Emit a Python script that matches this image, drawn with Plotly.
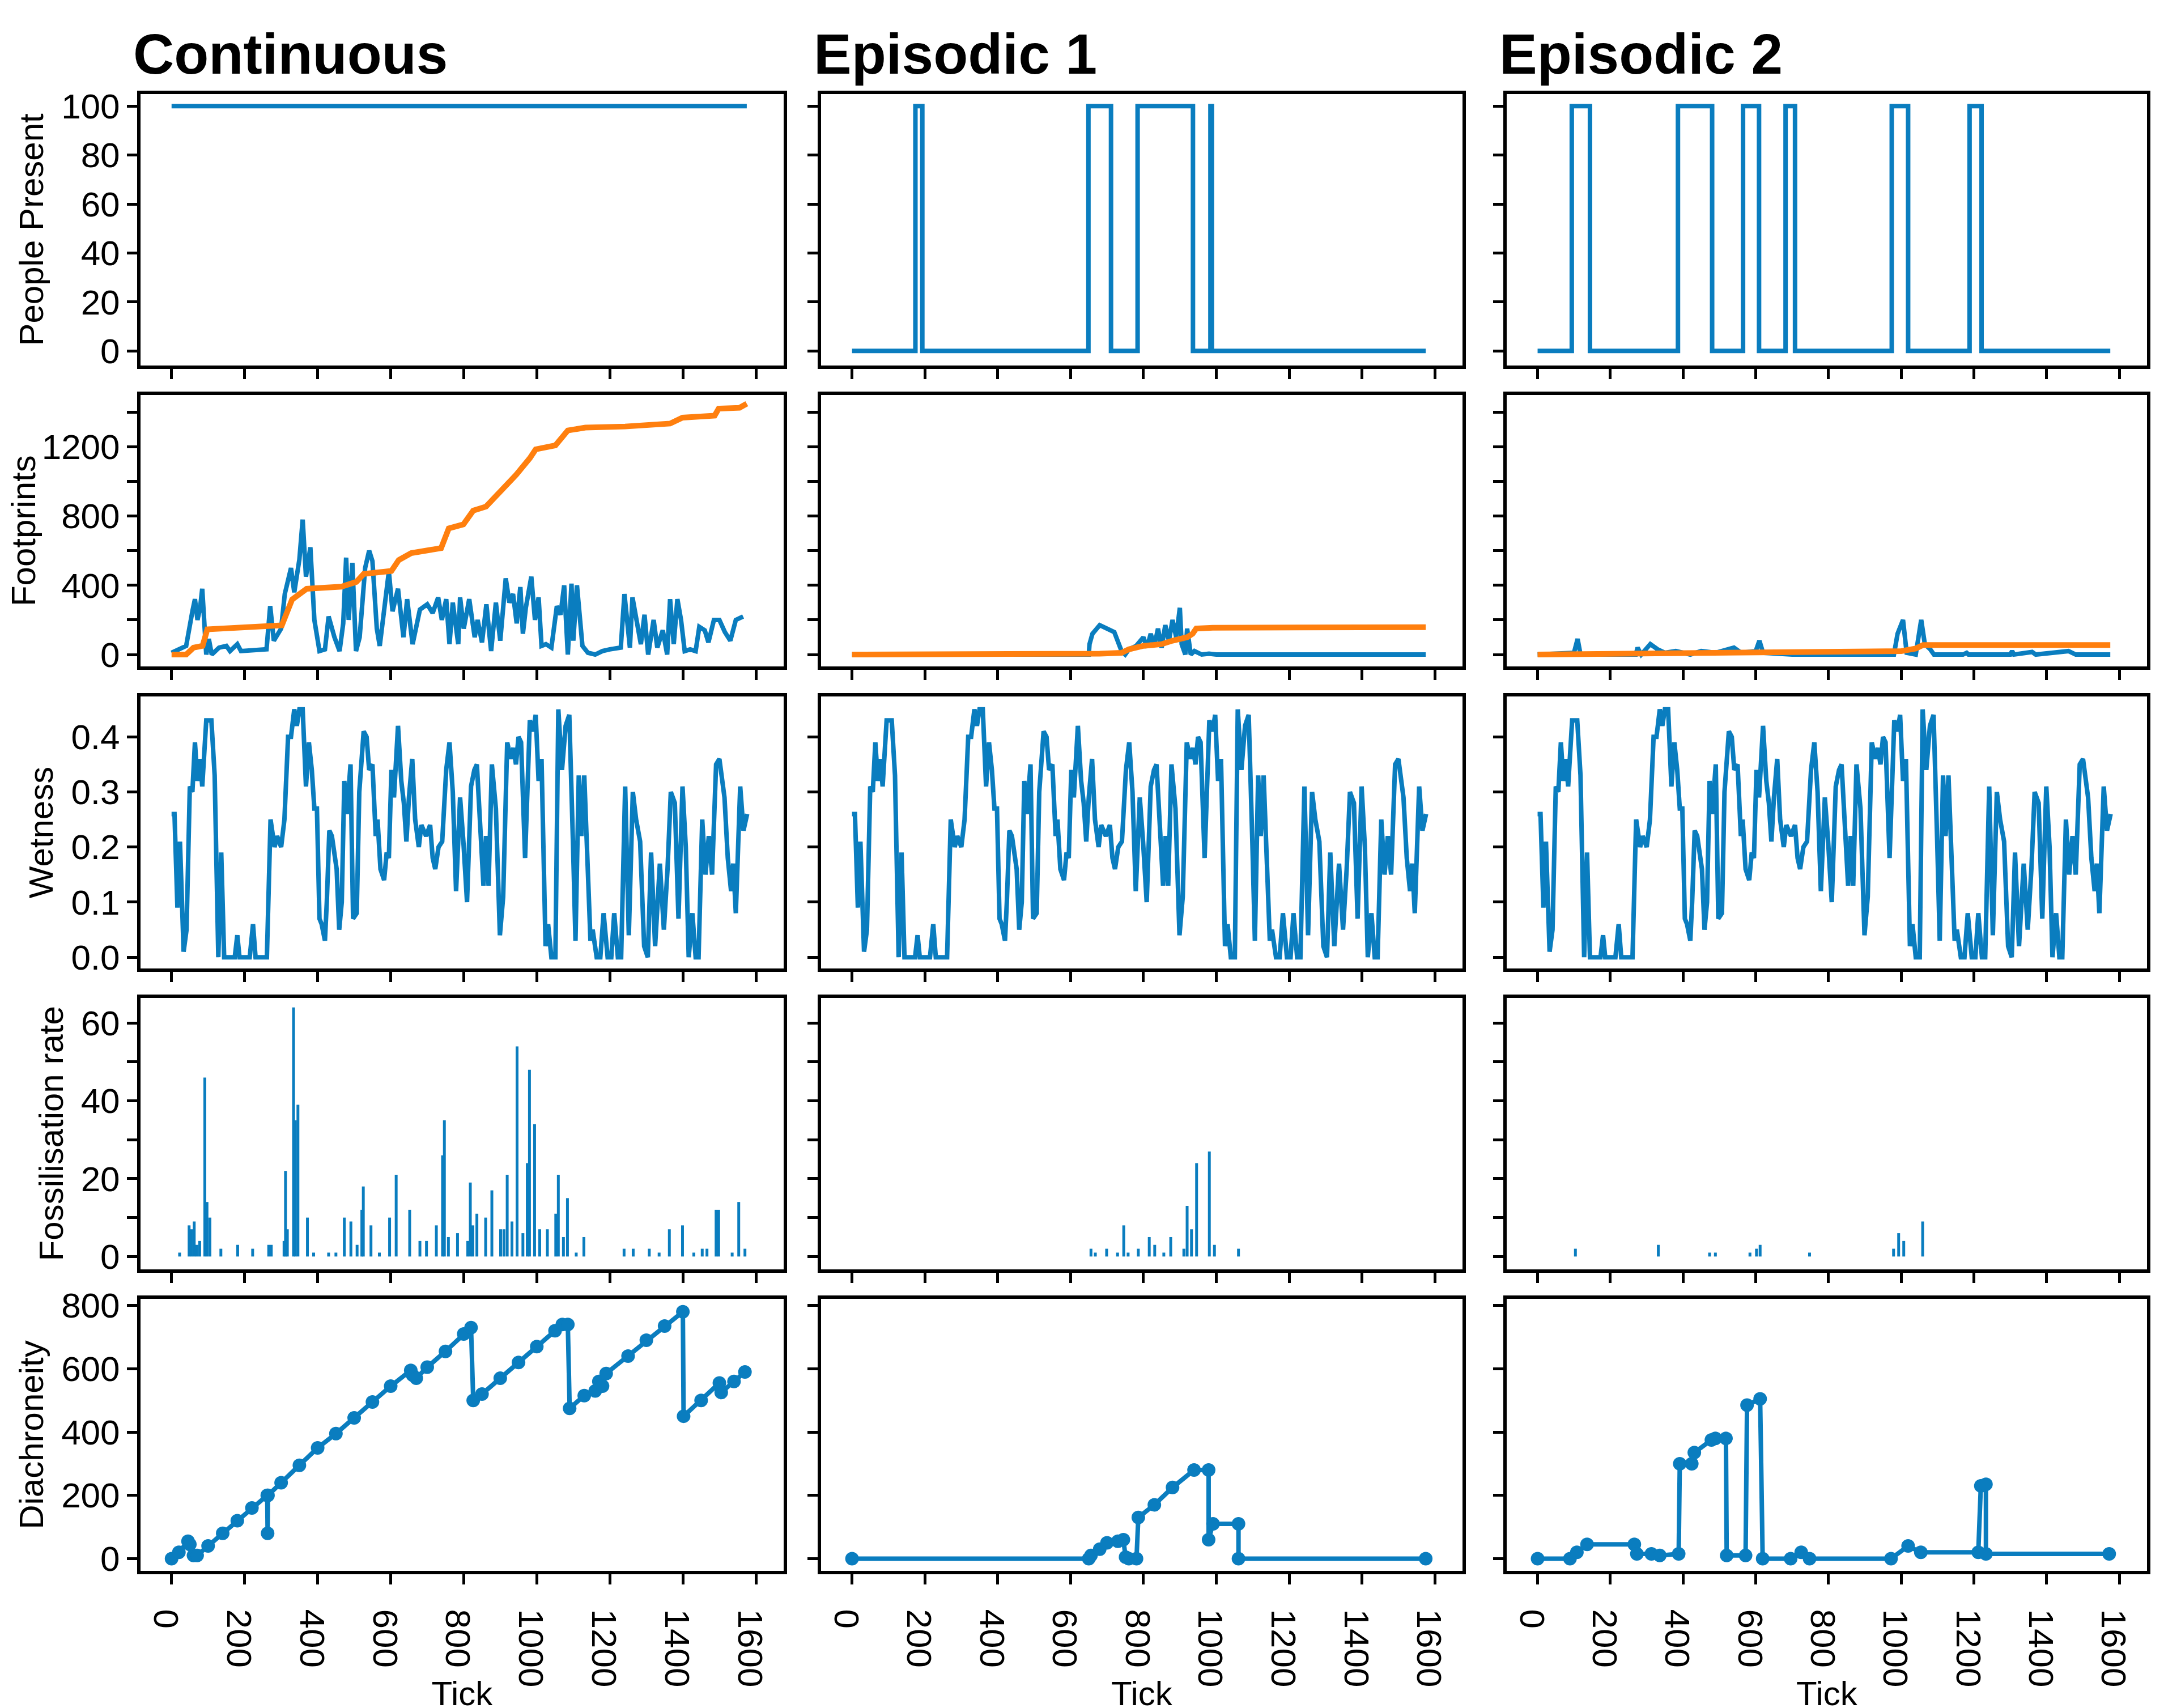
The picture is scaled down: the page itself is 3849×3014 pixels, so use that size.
import plotly.graph_objects as go
from plotly.subplots import make_subplots

BLUE = "#0a7dbf"
ORANGE = "#ff7f0e"

# ---- People present: intervals where 100 people are present ----
cont_present = [(0, 1575)]
ep1_present = [(174, 193), (649, 711), (784, 936), (984, 988)]
ep2_present = [(94, 144), (386, 480), (565, 609), (682, 708), (974, 1019), (1188, 1221)]

# ---- Footprints (blue = current, orange = cumulative fossilised) ----
cont_fp_t = [0, 20, 40, 57, 64, 71, 78, 84, 90, 95, 102, 110, 130, 150, 160, 180, 190, 260, 270, 280, 300, 310, 327, 336,
             350, 359, 368, 380, 391, 405, 420, 430, 446, 460, 470, 478, 485, 495, 505, 515, 530, 541, 550, 562, 570, 580,
             595, 605, 620, 635, 645, 660, 680, 700, 715, 730, 740, 752, 761, 770, 785, 790, 800, 815, 830, 838, 850, 862,
             875, 888, 900, 915, 925, 935, 945, 955, 962, 970, 985, 995, 1005, 1013, 1025, 1040, 1055, 1065, 1075, 1085,
             1095, 1100, 1110, 1125, 1140, 1160, 1180, 1200, 1230, 1240, 1255, 1262, 1272, 1285, 1295, 1305, 1320, 1330,
             1345, 1357, 1365, 1375, 1385, 1395, 1405, 1420, 1435, 1445, 1460, 1470, 1485, 1500, 1515, 1530, 1545, 1565]
cont_fp_v = [10, 30, 50, 250, 320, 200, 270, 380, 150, 0, 90, 0, 40, 50, 20, 60, 20, 30, 280, 80, 150, 350, 500, 360,
             550, 780, 450, 620, 200, 20, 30, 220, 100, 20, 180, 560, 200, 530, 20, 100, 500, 600, 540, 150, 50, 220,
             480, 250, 380, 100, 320, 60, 260, 290, 240, 330, 200, 320, 60, 300, 60, 330, 150, 320, 100, 200, 70, 290,
             20, 300, 80, 440, 300, 350, 180, 390, 120, 270, 450, 200, 330, 50, 60, 40, 280, 230, 400, 0,
             410, 80, 400, 50, 10, 0, 20, 30, 40, 350, 40, 330, 200, 60, 230, 0, 200, 40,
             140, 0, 320, 60, 320, 200, 20, 30, 20, 160, 140, 70, 200, 200, 130, 80, 200, 220]
cont_cum_t = [0, 40, 60, 85, 98, 262, 302, 330, 350, 370, 465, 506, 526, 602, 622, 656, 738, 759, 799, 826, 861, 881, 915,
              943, 981, 997, 1051, 1085, 1133, 1242, 1365, 1399, 1487, 1498, 1555, 1569, 1575]
cont_cum_v = [0, 0, 40, 50, 146, 160, 169, 318, 352, 380, 392, 420, 466, 483, 546, 586, 615, 729, 752, 832, 855, 900, 969,
              1038, 1135, 1186, 1209, 1295, 1312, 1318, 1335, 1369, 1381, 1421, 1426, 1447, 1450]

ep1_fp_t = [0, 650, 652, 660, 680, 690, 720, 740, 750, 760, 780, 800, 810, 820, 830, 840, 850, 860, 870, 880, 890, 900,
            905, 915, 920, 930, 940, 960, 980, 1000, 1575]
ep1_fp_v = [0, 0, 60, 120, 170, 160, 130, 20, 0, 30, 50, 100, 40, 120, 50, 150, 40, 170, 80, 200, 100, 270,
            60, 0, 150, 0, 20, 0, 5, 0, 0]
ep1_cum_t = [0, 650, 680, 740, 760, 800, 850, 880, 920, 935, 945, 990, 1575]
ep1_cum_v = [0, 0, 5, 10, 30, 50, 60, 80, 100, 120, 150, 155, 158]

ep2_fp_t = [0, 100, 110, 118, 270, 275, 285, 310, 330, 350, 380, 420, 450, 490, 540, 560, 600, 610, 620, 700, 980, 990,
            1005, 1015, 1040, 1055, 1065, 1080, 1090, 1170, 1180, 1185, 1300, 1305, 1310, 1360, 1370, 1460, 1480, 1575]
ep2_fp_v = [0, 10, 90, 0, 0, 40, 0, 60, 30, 10, 20, 0, 20, 10, 40, 10, 20, 80, 10, 0, 0, 120,
            200, 10, 0, 200, 60, 30, 0, 0, 10, 0, 0, 20, 0, 15, 0, 20, 0, 0]
ep2_cum_t = [0, 330, 600, 1000, 1040, 1060, 1575]
ep2_cum_v = [0, 5, 15, 20, 35, 55, 55]

# ---- Wetness (same climate in all three runs) ----
wet_t = [0, 8, 16, 23, 33, 41, 50, 57, 64, 71, 78, 84, 95, 109, 118, 128, 136, 144, 173, 180, 186, 214, 223, 230, 261,
         271, 282, 289, 300, 309, 319, 327, 336, 343, 350, 359, 368, 376, 384, 391, 398, 405, 411, 420, 425, 432, 439,
         446, 452, 459, 466, 473, 480, 490, 497, 507, 514, 526, 534, 541, 550, 559, 564, 572, 582, 589, 595, 602, 609,
         620, 629, 636, 643, 650, 659, 667, 677, 684, 697, 708, 715, 722, 731, 741, 752, 761, 770, 779, 790, 799, 809,
         820, 829, 836, 847, 854, 861, 868, 877, 888, 899, 908, 919, 929, 936, 943, 950, 957, 968, 981, 990, 997, 1005,
         1013, 1024, 1031, 1040, 1051, 1059, 1069, 1079, 1089, 1099, 1106, 1115, 1122, 1130, 1137, 1147, 1153, 1164,
         1174, 1183, 1194, 1204, 1212, 1222, 1231, 1242, 1252, 1263, 1272, 1283, 1294, 1304, 1313, 1324, 1337, 1348,
         1358, 1367, 1378, 1388, 1399, 1408, 1416, 1426, 1435, 1443, 1453, 1462, 1471, 1480, 1491, 1500, 1514, 1523,
         1532, 1538, 1545, 1557, 1566, 1576]
wet_v = [0.26, 0.26, 0.09, 0.21, 0.01, 0.05, 0.31, 0.30, 0.39, 0.32, 0.36, 0.31, 0.43, 0.43, 0.33, 0.0, 0.19, 0.0, 0.0,
         0.04, 0.0, 0.0, 0.06, 0.0, 0.0, 0.25, 0.20, 0.22, 0.20, 0.25, 0.40, 0.40, 0.45, 0.42, 0.45, 0.45, 0.31, 0.39,
         0.34, 0.27, 0.27, 0.07, 0.06, 0.03, 0.10, 0.23, 0.22, 0.19, 0.16, 0.05, 0.10, 0.32, 0.26, 0.35, 0.07, 0.08,
         0.30, 0.41, 0.40, 0.34, 0.35, 0.22, 0.25, 0.16, 0.14, 0.19, 0.18, 0.34, 0.29, 0.42, 0.32, 0.28, 0.21, 0.29,
         0.36, 0.25, 0.20, 0.24, 0.22, 0.24, 0.18, 0.16, 0.20, 0.21, 0.34, 0.39, 0.30, 0.12, 0.29, 0.21, 0.10, 0.31,
         0.34, 0.35, 0.20, 0.13, 0.22, 0.13, 0.35, 0.27, 0.04, 0.11, 0.39, 0.36, 0.38, 0.35, 0.40, 0.39, 0.18, 0.43,
         0.41, 0.44, 0.32, 0.36, 0.02, 0.06, 0.0, 0.0, 0.45, 0.34, 0.42, 0.44, 0.21, 0.03, 0.33, 0.22, 0.33, 0.20,
         0.03, 0.05, 0.0, 0.0, 0.08, 0.0, 0.0, 0.08, 0.0, 0.0, 0.31, 0.04, 0.30, 0.25, 0.21, 0.02, 0.0, 0.19, 0.02,
         0.17, 0.05, 0.16, 0.30, 0.28, 0.07, 0.31, 0.20, 0.0, 0.08, 0.0, 0.0, 0.25, 0.15, 0.22, 0.15, 0.35, 0.36,
         0.29, 0.18, 0.12, 0.17, 0.08, 0.31, 0.23, 0.26]

# ---- Fossilisation rate spikes (tick, rate) ----
cont_fos_t = [22, 48, 55, 62, 69, 77, 91, 97, 105, 135, 181, 222, 266, 273, 308, 312, 317, 334, 339, 346, 372, 389, 430,
              450, 473, 491, 508, 521, 525, 546, 569, 597, 615, 652, 680, 698, 725, 742, 747, 758, 783, 811, 818, 825,
              836, 860, 877, 901, 910, 919, 932, 946, 962, 974, 980, 994, 1008, 1029, 1052, 1059, 1073, 1084, 1108,
              1129, 1239, 1264, 1308, 1335, 1363, 1399, 1430, 1453, 1466, 1491, 1498, 1535, 1553, 1570]
cont_fos_v = [1, 8, 7, 9, 3, 4, 46, 14, 10, 2, 3, 2, 3, 3, 4, 22, 7, 64, 35, 39, 10, 1, 1,
              1, 10, 9, 3, 12, 18, 8, 1, 10, 21, 12, 4, 4, 8, 26, 35, 5, 6, 4, 19, 8,
              11, 10, 17, 7, 7, 21, 9, 54, 6, 24, 48, 34, 7, 7, 11, 21, 5, 15, 1,
              5, 2, 2, 2, 1, 7, 8, 1, 2, 2, 12, 12, 1, 14, 2]
ep1_fos_t = [656, 668, 699, 729, 746, 758, 786, 816, 831, 856, 875, 911, 920, 932, 946, 981, 995, 1061]
ep1_fos_v = [2, 1, 2, 1, 8, 1, 2, 5, 3, 1, 5, 2, 13, 7, 24, 27, 3, 2]
ep2_fos_t = [104, 332, 473, 489, 584, 602, 612, 748, 979, 993, 1007, 1059]
ep2_fos_v = [2, 3, 1, 1, 1, 2, 3, 1, 2, 6, 4, 9]

# ---- Diachroneity ----
cont_dia_t = [0, 20, 45, 50, 60, 70, 100, 140, 180, 220, 262, 263, 264, 300, 350, 400, 450, 500, 550, 600, 655, 660, 670,
              700, 750, 800, 820, 826, 850, 900, 950, 1000, 1050, 1070, 1085, 1090, 1130, 1160, 1170, 1180, 1190, 1250,
              1300, 1350, 1400, 1402, 1450, 1500, 1505, 1540, 1570]
cont_dia_v = [0, 20, 55, 45, 10, 10, 40, 80, 120, 160, 200, 80, 200, 240, 295, 350, 395, 445, 495, 545, 595, 580, 570,
              605, 655, 710, 730, 500, 520, 570, 620, 670, 720, 740, 740, 475, 515, 530, 560, 545, 585, 640,
              690, 735, 780, 450, 500, 555, 525, 560, 590]
ep1_dia_t = [0, 650, 656, 680, 700, 730, 745, 751, 760, 781, 786, 830, 880, 939, 979, 979, 991, 1061, 1061, 1575]
ep1_dia_v = [0, 0, 10, 30, 50, 55, 60, 5, 0, 0, 130, 170, 225, 280, 280, 60, 110, 110, 0, 0]
ep2_dia_t = [0, 89, 108, 136, 266, 273, 313, 336, 388, 391, 424, 431, 478, 489, 518, 520, 572, 576, 612, 619, 696, 725,
             748, 972, 1019, 1054, 1212, 1219, 1233, 1233, 1572]
ep2_dia_v = [0, 0, 20, 45, 45, 15, 15, 10, 15, 300, 300, 335, 375, 380, 380, 10, 10, 485, 505, 0, 0, 20,
             0, 0, 40, 20, 20, 230, 235, 15, 15]

col_titles = ["Continuous", "Episodic 1", "Episodic 2"]
row_titles = ["People Present", "Footprints", "Wetness", "Fossilisation rate", "Diachroneity"]
x_ticks = [0, 200, 400, 600, 800, 1000, 1200, 1400, 1600]


def step_series(intervals, end=1575):
    xs, ys = [0], [0]
    for a, b in intervals:
        xs += [a, a, b, b]
        ys += [0, 100, 100, 0]
    xs.append(end)
    ys.append(0)
    return xs, ys


def spikes(ts, vs):
    xs, ys = [], []
    for t, v in zip(ts, vs):
        xs += [t, t, None]
        ys += [0, v, None]
    return xs, ys


W, H = 3849, 3014
LW = 8
fig = make_subplots(rows=5, cols=3)

present = [cont_present, ep1_present, ep2_present]
fps = [(cont_fp_t, cont_fp_v, cont_cum_t, cont_cum_v),
       (ep1_fp_t, ep1_fp_v, ep1_cum_t, ep1_cum_v),
       (ep2_fp_t, ep2_fp_v, ep2_cum_t, ep2_cum_v)]
fos = [(cont_fos_t, cont_fos_v), (ep1_fos_t, ep1_fos_v), (ep2_fos_t, ep2_fos_v)]
dia = [(cont_dia_t, cont_dia_v), (ep1_dia_t, ep1_dia_v), (ep2_dia_t, ep2_dia_v)]

for c in range(3):
    col = c + 1
    if c == 0:
        fig.add_trace(go.Scatter(x=[0, 1575], y=[100, 100], mode="lines",
                                 line=dict(color=BLUE, width=LW)), row=1, col=col)
    else:
        px, py = step_series(present[c])
        fig.add_trace(go.Scatter(x=px, y=py, mode="lines",
                                 line=dict(color=BLUE, width=LW)), row=1, col=col)
    ft, fv, ct, cv = fps[c]
    fig.add_trace(go.Scatter(x=ft, y=fv, mode="lines", line=dict(color=BLUE, width=LW)), row=2, col=col)
    fig.add_trace(go.Scatter(x=ct, y=cv, mode="lines", line=dict(color=ORANGE, width=LW + 2)), row=2, col=col)
    fig.add_trace(go.Scatter(x=wet_t, y=wet_v, mode="lines", line=dict(color=BLUE, width=LW)), row=3, col=col)
    sx, sy = spikes(*fos[c])
    fig.add_trace(go.Scatter(x=sx, y=sy, mode="lines", line=dict(color=BLUE, width=5)), row=4, col=col)
    dt, dv = dia[c]
    fig.add_trace(go.Scatter(x=dt, y=dv, mode="lines+markers", line=dict(color=BLUE, width=LW),
                             marker=dict(color=BLUE, size=24)), row=5, col=col)

x_dom = [[240 / W, 1375 / W], [1441 / W, 2573 / W], [2651 / W, 3781 / W]]
y_px = [(140, 638), (692, 1190), (1245, 1743), (1797, 2295), (2349, 2848)]
y_ranges = [[-6, 105], [-70, 1500], [-0.02, 0.473], [-3.3, 66.5], [-39, 821]]
y_ticks = [dict(dtick=20), dict(dtick=400, minor=dict(dtick=200)), dict(dtick=0.1, tickformat=".1f"),
           dict(dtick=20, minor=dict(dtick=10)), dict(dtick=200)]

axfont = dict(family="Liberation Sans, Arial", size=62, color="black")
titlefont = dict(family="Liberation Sans, Arial", size=60, color="black")
for r in range(5):
    for c in range(3):
        idx = r * 3 + c + 1
        xa = "xaxis" if idx == 1 else f"xaxis{idx}"
        ya = "yaxis" if idx == 1 else f"yaxis{idx}"
        fig.layout[xa].update(
            domain=x_dom[c], range=[-85, 1676], tickvals=x_ticks, showticklabels=(r == 4),
            ticks="outside", ticklen=18, tickwidth=5, tickcolor="black", showgrid=False, zeroline=False,
            showline=True, linecolor="black", linewidth=6, mirror=True, tickfont=axfont,
            title=dict(text="Tick", font=titlefont, standoff=2) if r == 4 else None,
        )
        minor = y_ticks[r].get("minor")
        fig.layout[ya].update(
            domain=[1 - y_px[r][1] / H, 1 - y_px[r][0] / H], range=y_ranges[r],
            dtick=y_ticks[r]["dtick"], tick0=0, tickformat=y_ticks[r].get("tickformat", ""),
            showticklabels=(c == 0), ticks="outside", ticklen=18, tickwidth=5, tickcolor="black",
            showgrid=False, zeroline=False, showline=True, linecolor="black", linewidth=6, mirror=True,
            tickfont=axfont,
            title=dict(text=row_titles[r], font=titlefont, standoff=14) if c == 0 else None,
        )
        if minor:
            fig.layout[ya].minor = dict(dtick=minor["dtick"], ticks="outside", ticklen=18, tickwidth=5,
                                        tickcolor="black", showgrid=False)

for c, t in enumerate(col_titles):
    fig.add_annotation(text=f"<b>{t}</b>", x=x_dom[c][0] - 0.004, y=1 - 66 / H, xref="paper", yref="paper",
                       xanchor="left", yanchor="middle", showarrow=False,
                       font=dict(family="Liberation Sans, Arial", size=100, color="black"))

fig.update_layout(width=W, height=H, showlegend=False, plot_bgcolor="white", paper_bgcolor="white",
                  margin=dict(l=0, r=0, t=0, b=0))
fig.write_html("out.html")
